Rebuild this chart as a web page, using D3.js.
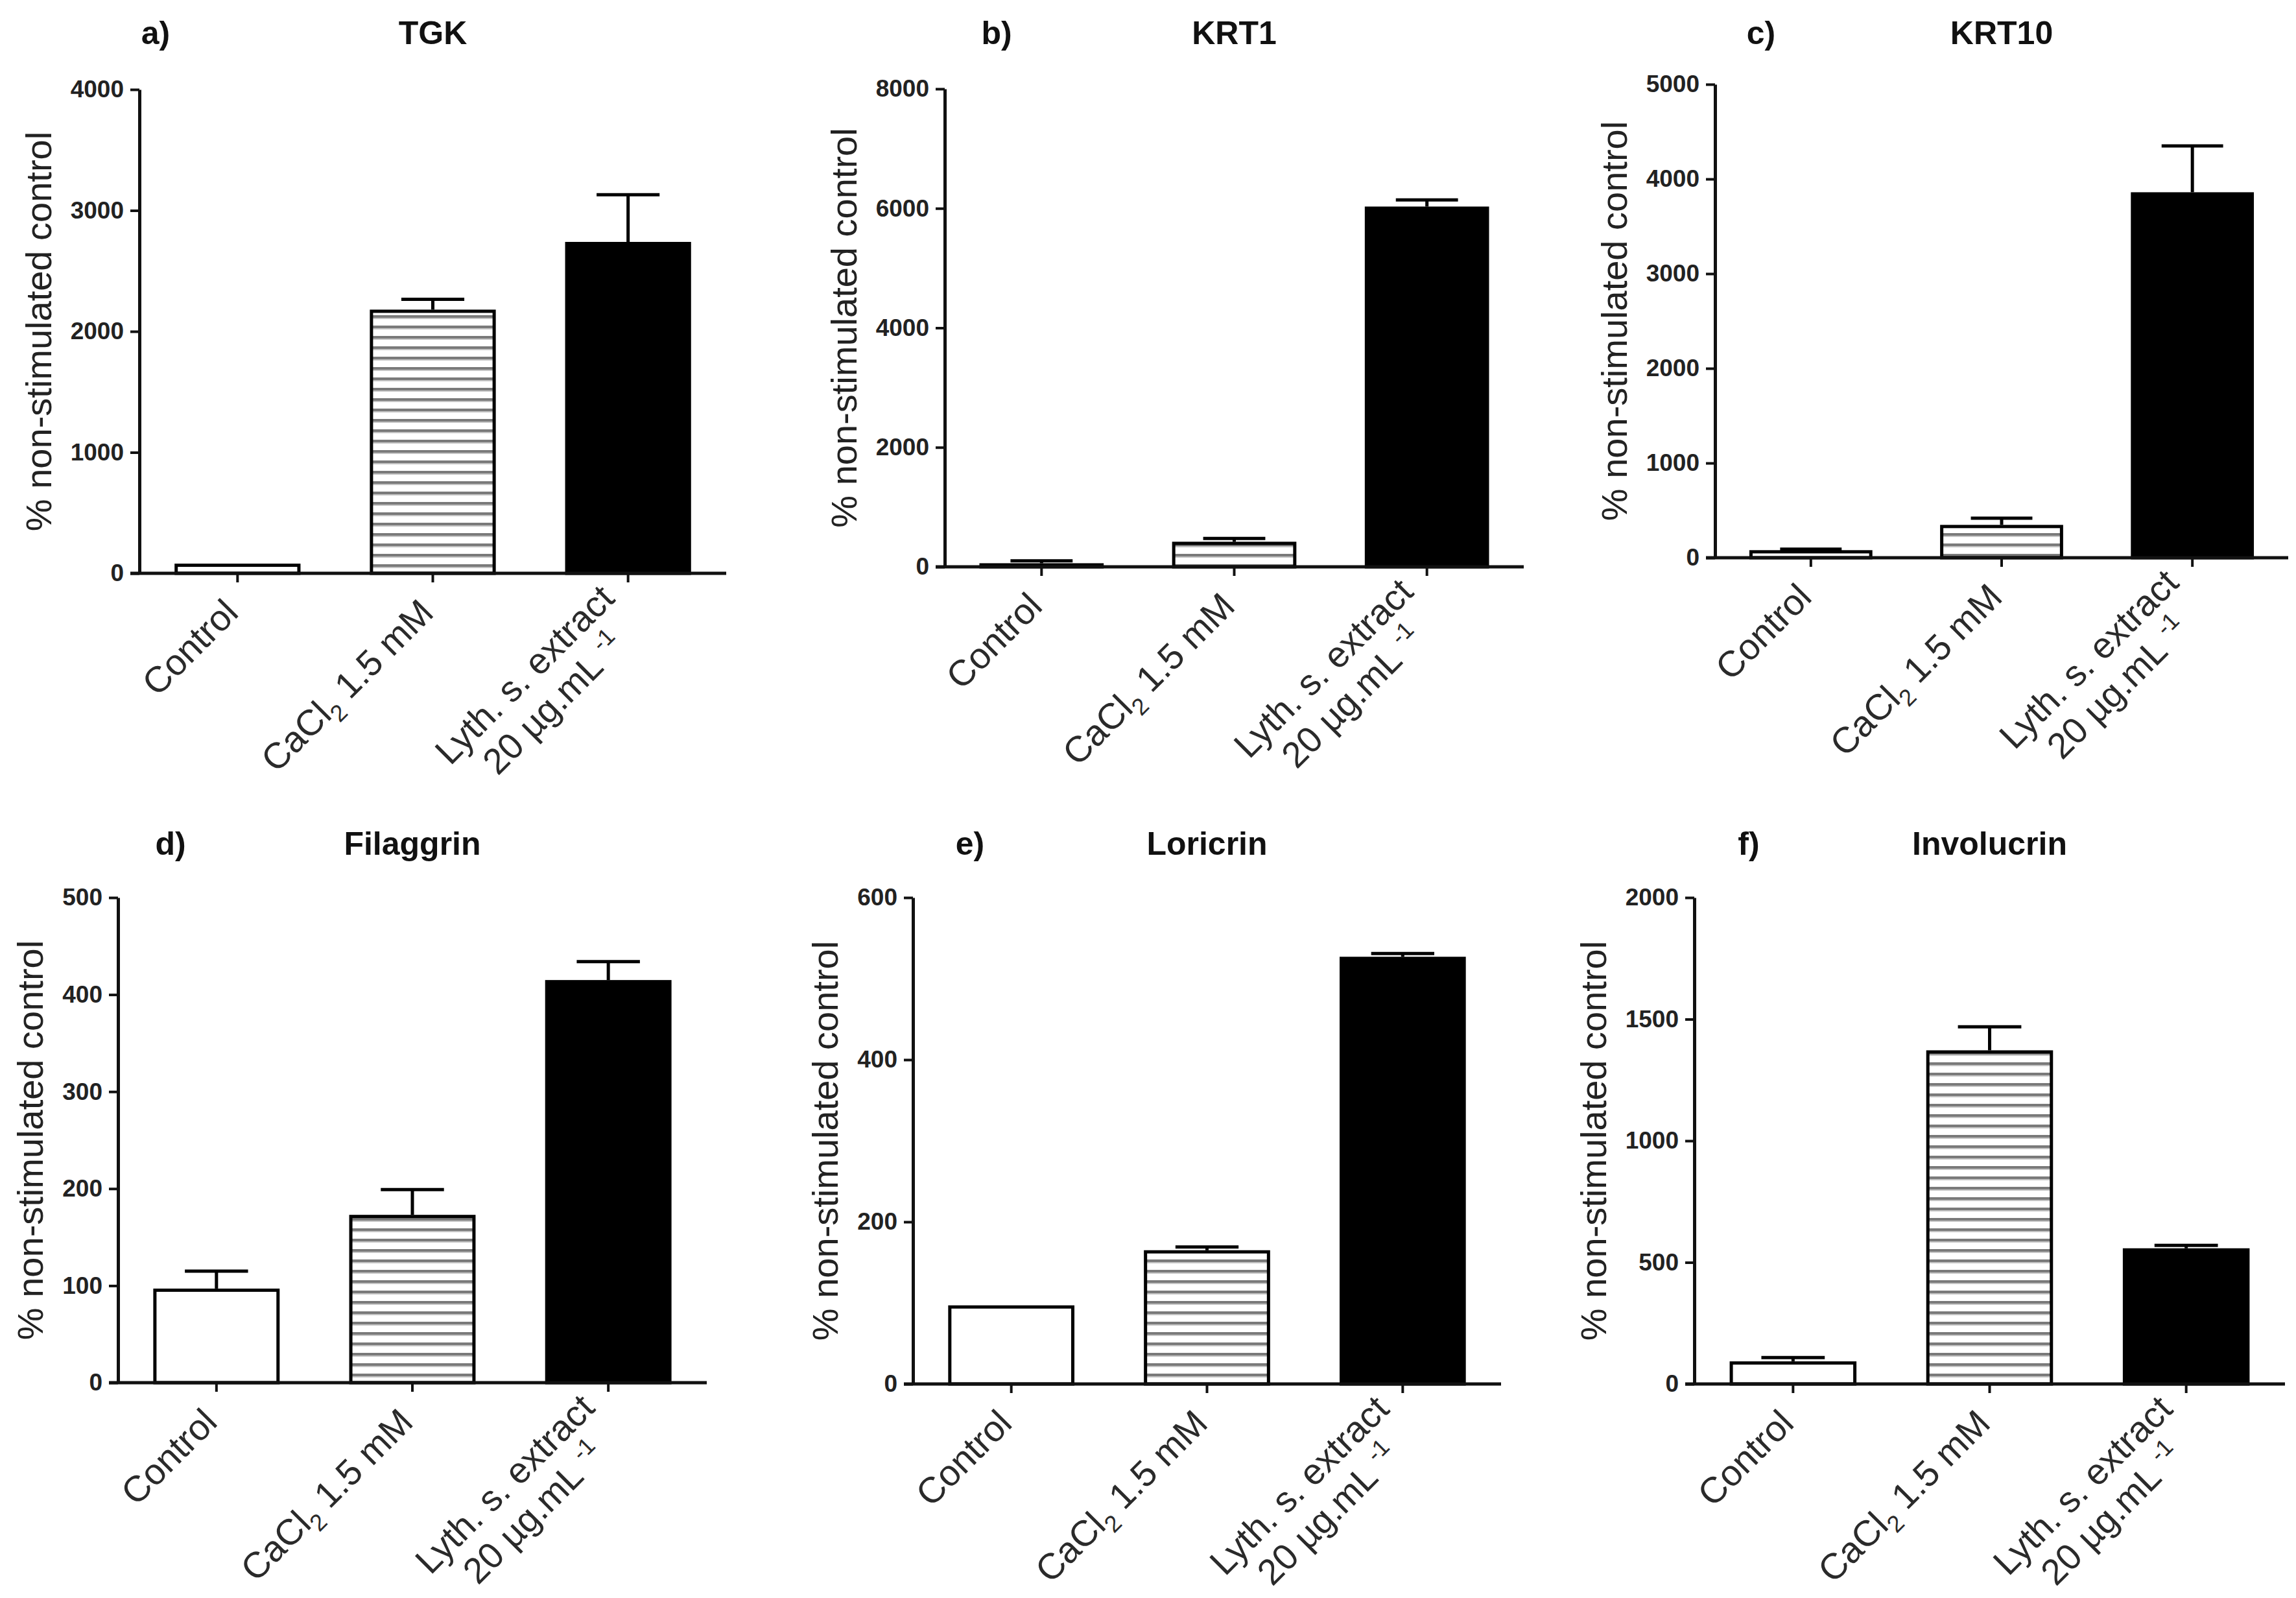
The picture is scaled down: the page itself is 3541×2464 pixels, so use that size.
<!DOCTYPE html>
<html>
<head>
<meta charset="utf-8">
<script src="https://cdn.jsdelivr.net/npm/d3@7"></script>
<style>
  body { margin: 0; background: white; }
  text { font-family: "Liberation Sans", Arial, sans-serif; }
</style>
</head>
<body>
<svg id="chart"></svg>
<script>
// groups on the x axis (same in every panel)
var categories = ["Control", "CaCl2 1.5 mM", "Lyth. s. extract 20 µg.mL-1"]

var panelLetters = ["a)", "b)", "c)", "d)", "e)", "f)"]
var panelTitles = ["TGK", "KRT1", "KRT10", "Filaggrin", "Loricrin", "Involucrin"]

// bar heights (% non-stimulated control)
var meanTGK = [80, 2180, 2740]
var meanKRT1 = [60, 420, 6030]
var meanKRT10 = [80, 347, 3860]
var meanFilaggrin = [97, 173, 415]
var meanLoricrin = [97, 165, 527]
var meanInvolucrin = [93, 1372, 558]

// upper error bars
var errTGK = [0, 85, 390]
var errKRT1 = [40, 55, 110]
var errKRT10 = [10, 70, 490]
var errFilaggrin = [18, 26, 19]
var errLoricrin = [0, 4, 4]
var errInvolucrin = [16, 97, 12]

// y axis range and tick step of each panel
var yMax = [4000, 8000, 5000, 500, 600, 2000]
var yStep = [1000, 2000, 1000, 100, 200, 500]

var yTitle = "% non-stimulated control"

var means = [meanTGK, meanKRT1, meanKRT10, meanFilaggrin, meanLoricrin, meanInvolucrin]
var errs = [errTGK, errKRT1, errKRT10, errFilaggrin, errLoricrin, errInvolucrin]

// plot boxes in page pixels
var boxes = [
    { x0: 215, x1: 1120, y0: 138, y1: 884, letterX: 240 },
    { x0: 1457, x1: 2350, y0: 137, y1: 874, letterX: 1537 },
    { x0: 2645, x1: 3529, y0: 130, y1: 860, letterX: 2716 },
    { x0: 182, x1: 1090, y0: 1384, y1: 2132, letterX: 263 },
    { x0: 1408, x1: 2315, y0: 1384, y1: 2134, letterX: 1496 },
    { x0: 2613, x1: 3524, y0: 1384, y1: 2134, letterX: 2697 }
]
var titleY = [68, 68, 68, 1318, 1318, 1318]

var width = 3541, height = 2464
var lineW = 5
var labelSize = 56
var barFills = ["white", "url(#hatch)", "black"]

var svg = d3.select("#chart")
    .attr("width", width)
    .attr("height", height)

// horizontal stripes used by the CaCl2 bars
var pat = svg.append("defs").append("pattern")
    .attr("id", "hatch")
    .attr("patternUnits", "userSpaceOnUse")
    .attr("width", 16)
    .attr("height", 16)
pat.append("rect").attr("width", 16).attr("height", 16).attr("fill", "white")
pat.append("rect").attr("y", 6).attr("width", 16).attr("height", 4).attr("fill", "#7a7a7a")
pat.append("rect").attr("y", 10).attr("width", 16).attr("height", 2).attr("fill", "#c4c4c4")

function drawLabel(g, i) {
    // rotated category label, text block centred on its anchor like GraphPad
    if (i == 0) {
        g.append("text").attr("text-anchor", "end").text(categories[0])
    } else if (i == 1) {
        var t = g.append("text").attr("text-anchor", "end")
        t.append("tspan").text("CaCl")
        t.append("tspan").attr("font-size", labelSize * 0.65).attr("dy", 14).text("2")
        t.append("tspan").attr("dy", -14).text(" 1.5 mM")
    } else {
        var lh = labelSize * 1.12
        var t1 = g.append("text").attr("text-anchor", "middle").attr("y", -lh / 2)
            .text("Lyth. s. extract")
        var w1 = t1.node().getComputedTextLength()
        t1.attr("x", -w1 / 2)
        var t2 = g.append("text").attr("text-anchor", "middle").attr("x", -w1 / 2).attr("y", lh / 2)
        t2.append("tspan").text("20 µg.mL ")
        t2.append("tspan").attr("font-size", labelSize * 0.65).attr("dy", -22).text("-1")
    }
}

for (let p = 0; p < 6; p++) {
    var b = boxes[p]
    var g = svg.append("g").attr("class", "panel")

    var x = d3.scaleBand()
        .domain(categories)
        .range([b.x0, b.x1])
        .paddingInner(0.355)
        .paddingOuter(0.18)

    var y = d3.scaleLinear()
        .domain([0, yMax[p]])
        .range([b.y1, b.y0])

    var rows = categories.map((c, i) => ({ cat: c, i: i, v: means[p][i], e: errs[p][i] }))

    // error bars first, bars on top
    var eb = g.selectAll(".err")
        .data(rows.filter(d => d.e > 0))
        .enter().append("g")
        .attr("class", "err")
        .attr("stroke", "black")
        .attr("stroke-width", lineW)
    eb.append("line")
        .attr("x1", d => x(d.cat) + x.bandwidth() / 2)
        .attr("x2", d => x(d.cat) + x.bandwidth() / 2)
        .attr("y1", d => y(d.v))
        .attr("y2", d => y(d.v + d.e))
    eb.append("line")
        .attr("x1", d => x(d.cat) + x.bandwidth() / 4)
        .attr("x2", d => x(d.cat) + x.bandwidth() * 3 / 4)
        .attr("y1", d => y(d.v + d.e))
        .attr("y2", d => y(d.v + d.e))

    g.selectAll(".bar")
        .data(rows)
        .enter().append("rect")
        .attr("class", "bar")
        .attr("x", d => x(d.cat) + lineW / 2)
        .attr("width", x.bandwidth() - lineW)
        .attr("y", d => y(d.v) + lineW / 2)
        .attr("height", d => Math.max(0, y(0) - y(d.v) - lineW / 2))
        .attr("fill", d => barFills[d.i])
        .attr("stroke", "black")
        .attr("stroke-width", lineW)

    // axes
    var yAxis = g.append("g")
        .attr("transform", "translate(" + b.x0 + ",0)")
        .call(d3.axisLeft(y)
            .tickValues(d3.range(0, yMax[p] + 1, yStep[p]))
            .tickFormat(d3.format("d"))
            .tickSize(14)
            .tickSizeOuter(0)
            .tickPadding(10))
    yAxis.select(".domain").attr("stroke", "#111").attr("stroke-width", lineW)
    yAxis.selectAll(".tick line").attr("stroke", "#111").attr("stroke-width", 4)
    yAxis.selectAll(".tick text")
        .attr("font-size", 37)
        .attr("font-weight", "bold")
        .attr("fill", "#222")
        .style("font-family", "'Liberation Sans', Arial, sans-serif")

    var xAxis = g.append("g")
        .attr("transform", "translate(0," + b.y1 + ")")
        .call(d3.axisBottom(x).tickSize(14).tickSizeOuter(0).tickFormat(""))
    xAxis.select(".domain").attr("stroke", "#111").attr("stroke-width", lineW)
        .attr("d", "M" + (b.x0 - 14) + ",0H" + b.x1)
    xAxis.selectAll(".tick line").attr("stroke", "#111").attr("stroke-width", 4)

    // category labels, rotated -45
    categories.forEach((c, i) => {
        var lg = g.append("g")
            .attr("font-size", labelSize)
            .attr("fill", "#2a2a2a")
            .attr("transform", "translate(" + (x(c) + x.bandwidth() / 2 + 4) + "," + (b.y1 + 64) + ") rotate(-45)")
        drawLabel(lg, i)
    })

    // y title, placed left of the widest tick label
    var tickLeft = b.x0 - 24 - d3.max(yAxis.selectAll(".tick text").nodes(), n => n.getComputedTextLength())
    g.append("text")
        .attr("transform", "translate(" + (tickLeft - 30) + "," + ((b.y0 + b.y1) / 2) + ") rotate(-90)")
        .attr("text-anchor", "middle")
        .attr("font-size", labelSize)
        .attr("fill", "#222")
        .text(yTitle)

    // panel letter and title
    g.append("text")
        .attr("x", b.letterX)
        .attr("y", titleY[p])
        .attr("text-anchor", "middle")
        .attr("font-size", 50)
        .attr("font-weight", "bold")
        .attr("fill", "#111")
        .text(panelLetters[p])
    g.append("text")
        .attr("x", (b.x0 + b.x1) / 2)
        .attr("y", titleY[p])
        .attr("text-anchor", "middle")
        .attr("font-size", 50)
        .attr("font-weight", "bold")
        .attr("fill", "#111")
        .text(panelTitles[p])
}
</script>
</body>
</html>
